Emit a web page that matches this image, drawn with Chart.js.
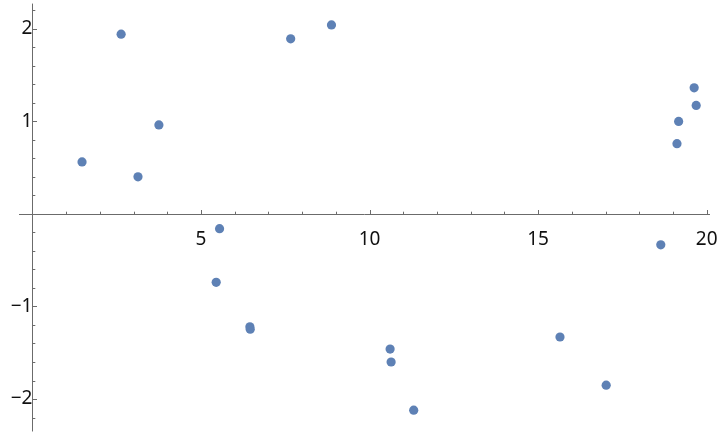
<!DOCTYPE html>
<html>
<head>
<meta charset="utf-8">
<script src="https://cdn.jsdelivr.net/npm/chart.js@4"></script>
<style>
  html, body { margin: 0; padding: 0; background: #fff; }
  #wrap { width: 720px; height: 432px; }
</style>
</head>
<body>
<div id="wrap"><canvas id="chart"></canvas></div>
<script>
// data
const xValues = [1.47, 2.63, 3.13, 3.75, 5.55, 5.45, 6.45, 6.46, 7.66, 8.87,
  10.61, 10.64, 11.31, 15.65, 17.02, 18.64, 19.12, 19.17, 19.63, 19.69];
const yValues = [0.56, 1.94, 0.40, 0.96, -0.16, -0.74, -1.22, -1.245, 1.89, 2.04,
  -1.46, -1.60, -2.12, -1.33, -1.85, -0.335, 0.757, 0.998, 1.36, 1.17];
const xTicks = [5, 10, 15, 20];
const yTicks = [-2, -1, 1, 2];

const points = xValues.map((x, i) => ({ x: x, y: yValues[i] }));
const axisColor = "#6b6b6b";

// axis lines with major and minor ticks, Mathematica style
const axesPlugin = {
  id: "axes",
  beforeDatasetsDraw(chart) {
    const { ctx, scales } = chart;
    const xs = scales.x, ys = scales.y;
    const x0 = Math.round(xs.getPixelForValue(0)) + 0.5;
    const y0 = Math.round(ys.getPixelForValue(0)) + 0.5;
    ctx.save();
    ctx.strokeStyle = axisColor;
    ctx.lineWidth = 1;
    ctx.beginPath();
    ctx.moveTo(xs.getPixelForValue(-0.4), y0);
    ctx.lineTo(xs.getPixelForValue(20.1), y0);
    ctx.moveTo(x0, ys.getPixelForValue(2.27));
    ctx.lineTo(x0, ys.getPixelForValue(-2.35));
    for (let v = 1; v <= 20; v++) {
      const px = Math.round(xs.getPixelForValue(v)) + 0.5;
      const len = v % 5 === 0 ? 4.5 : 2.8;
      ctx.moveTo(px, y0);
      ctx.lineTo(px, y0 - len);
    }
    for (let k = -11; k <= 11; k++) {
      if (k === 0) continue;
      const py = Math.round(ys.getPixelForValue(k / 5)) + 0.5;
      const len = k % 5 === 0 ? 4.5 : 2.8;
      ctx.moveTo(x0, py);
      ctx.lineTo(x0 + len, py);
    }
    ctx.stroke();
    ctx.restore();
  }
};

// labels may hang over the plot edge, don't let them shrink the plot area
function noOverhang(scale) {
  scale.paddingTop = 0;
  scale.paddingBottom = 0;
  scale.paddingLeft = 0;
  scale.paddingRight = 0;
}

const labelFont = { family: "'Noto Sans', 'Open Sans', sans-serif", size: 19 };

new Chart(document.getElementById("chart"), {
  type: "scatter",
  data: {
    datasets: [{
      data: points,
      backgroundColor: "#5E81B5",
      borderWidth: 0,
      pointRadius: 4.6,
      pointHoverRadius: 4.6
    }]
  },
  options: {
    responsive: true,
    maintainAspectRatio: false,
    animation: false,
    layout: { padding: { left: 19, right: 10, top: 3, bottom: 2 } },
    plugins: { legend: { display: false }, tooltip: { enabled: false } },
    scales: {
      x: {
        type: "linear",
        position: { y: 0 },
        min: -0.4,
        max: 20.1,
        grid: { display: false },
        border: { display: false },
        afterBuildTicks(scale) { scale.ticks = xTicks.map(v => ({ value: v })); },
        afterFit: noOverhang,
        ticks: { color: "#111", font: labelFont, padding: 6, maxRotation: 0 }
      },
      y: {
        type: "linear",
        position: { x: 0 },
        min: -2.306,
        max: 2.259,
        grid: { display: false },
        border: { display: false },
        afterBuildTicks(scale) { scale.ticks = yTicks.map(v => ({ value: v })); },
        afterFit: noOverhang,
        ticks: {
          color: "#111",
          font: labelFont,
          padding: 7,
          callback: v => (v < 0 ? "\u2212" + Math.abs(v) : String(v))
        }
      }
    }
  },
  plugins: [axesPlugin]
});
</script>
</body>
</html>
